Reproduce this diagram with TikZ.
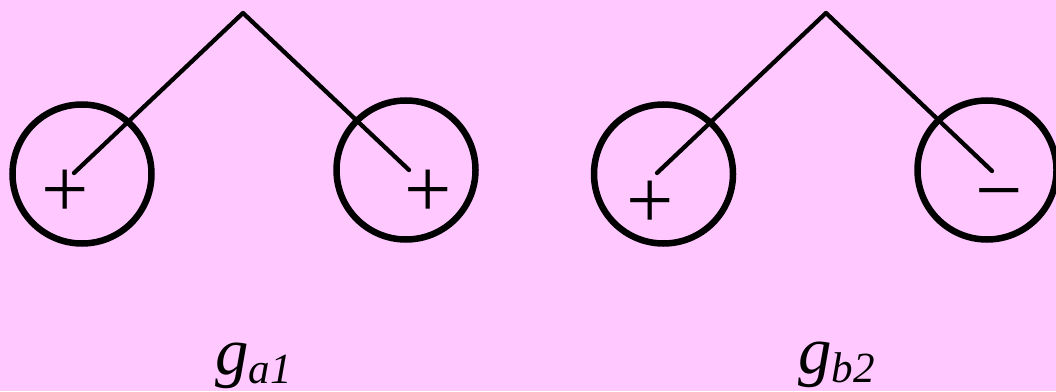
\documentclass[tikz,border=0pt]{standalone}
\usepackage{fontspec}
\setmainfont{Liberation Serif}
\definecolor{bgpink}{RGB}{255,200,255}
\tikzset{
  ring/.style={circle,draw,line width=6.5pt,minimum size=139pt,inner sep=0pt},
  arm/.style={line width=4.3pt,line cap=round,line join=round},
  sign/.style={inner sep=0pt,anchor=base,font=\fontsize{84}{84}\selectfont},
  glabel/.style={inner sep=0pt,anchor=base west,font=\fontsize{67}{67}\selectfont\itshape}
}
\newcommand{\gsub}[1]{g\raisebox{-9pt}{\fontsize{43}{43}\selectfont\itshape #1}}
\begin{document}
\begin{tikzpicture}[x=1pt,y=1pt]
  \fill[bgpink] (0,0) rectangle (1056,391);
  \useasboundingbox (0,0) rectangle (1056,391);
  % left pair
  \node[ring] (ca1) at (82,217) {};
  \node[ring] (ca2) at (406,221) {};
  \coordinate (topa) at (243,378);
  \coordinate (enda1) at (74,218);
  \coordinate (enda2) at (409,221);
  \draw[arm] (enda1) -- (topa) -- (enda2);
  \node[sign] (pa1) at (65,173.5) {+};
  \node[sign] (pa2) at (428,173.5) {+};
  \node[glabel] (ga) at (215,17) {\gsub{a1}};
  % right pair
  \node[ring] (cb1) at (663.5,217) {};
  \node[ring] (cb2) at (987,221) {};
  \coordinate (topb) at (826,378);
  \coordinate (endb1) at (657,218);
  \coordinate (endb2) at (992,220);
  \draw[arm] (endb1) -- (topb) -- (endb2);
  \node[sign] (pb1) at (650,162.5) {+};
  \node[sign] (pb2) at (999.5,172) {−};
  \node[glabel] (gb) at (798,18) {\gsub{b2}};
\end{tikzpicture}
\end{document}
